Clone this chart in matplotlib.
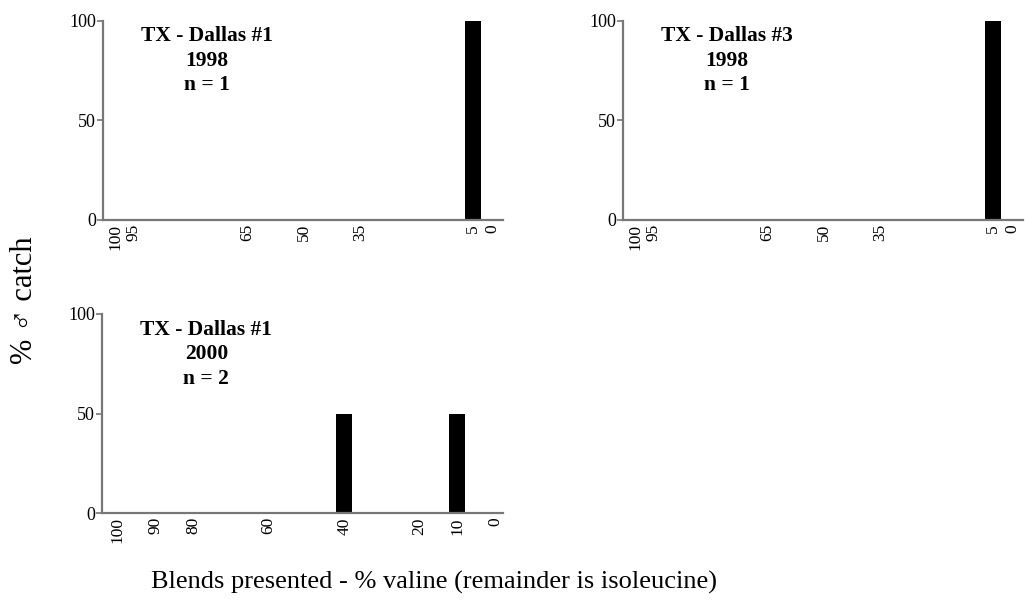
import matplotlib.pyplot as plt

plt.rcParams['font.family'] = ['Liberation Serif', 'DejaVu Serif']

# blends presented (% valine) and % male catch per panel
blends_98 = [100, 95, 65, 50, 35, 5, 0]
catch_dallas1_98 = [0, 0, 0, 0, 0, 100, 0]
catch_dallas3_98 = [0, 0, 0, 0, 0, 100, 0]

blends_00 = [100, 90, 80, 60, 40, 20, 10, 0]
catch_dallas1_00 = [0, 0, 0, 0, 50, 0, 50, 0]

panel_titles = ["TX - Dallas #1\n1998\nn = 1",
                "TX - Dallas #3\n1998\nn = 1",
                "TX - Dallas #1\n2000\nn = 2"]

spine_col = '#777777'

fig = plt.figure(figsize=(10.25, 6), dpi=100)
W, H = 1025, 600


def make_ax(x0, x1, y0, y1):
    return fig.add_axes([x0 / W, 1 - y0 / H, (x1 - x0) / W, (y0 - y1) / H])


ax1 = make_ax(103, 503, 220, 20.5)
ax2 = make_ax(623, 1023, 220, 20.5)
ax3 = make_ax(102, 503, 513, 314)

panels = [
    (ax1, blends_98, catch_dallas1_98, (103.2, -2.9), panel_titles[0]),
    (ax2, blends_98, catch_dallas3_98, (103.2, -2.9), panel_titles[1]),
    (ax3, blends_00, catch_dallas1_00, (104.2, -2.1), panel_titles[2]),
]

for ax, xs, ys, xl, title in panels:
    ax.bar(xs, ys, width=4.2, color='black', edgecolor='none', zorder=2)
    ax.set_xlim(*xl)
    ax.set_ylim(0, 100)
    ax.set_yticks([0, 50, 100])
    ax.set_xticks(xs)
    ax.set_xticklabels([str(v) for v in xs], rotation=90)
    for s in ['top', 'right']:
        ax.spines[s].set_visible(False)
    for s in ['left', 'bottom']:
        ax.spines[s].set_color(spine_col)
        ax.spines[s].set_linewidth(1.6)
    ax.tick_params(axis='y', length=4, width=1.2, color=spine_col,
                   labelsize=13, pad=1)
    ax.tick_params(axis='x', length=0, labelsize=12.5, pad=3)
    ax.text(0.26, 0.97, title, transform=ax.transAxes, ha='center', va='top',
            fontsize=15.5, fontweight='bold', linespacing=1.3)

fig.text(25 / W, 1 - 300 / H, '% \u2642 catch', rotation=90, ha='center',
         va='center', fontsize=22)
fig.text(434 / W, 1 - 582 / H,
         'Blends presented - % valine (remainder is isoleucine)',
         ha='center', va='center', fontsize=19)

fig.savefig('out.png', dpi=100)
